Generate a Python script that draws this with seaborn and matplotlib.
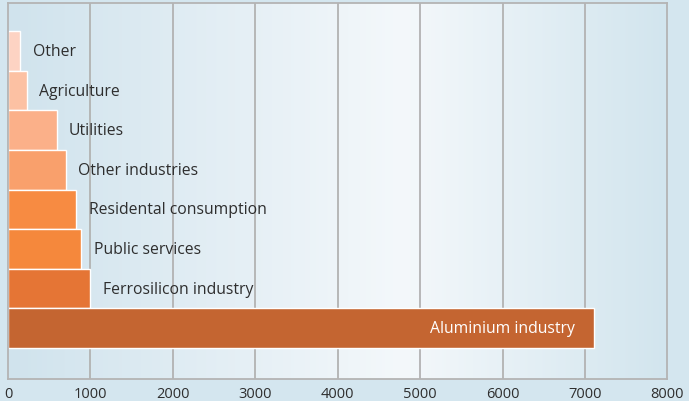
import numpy as np
import matplotlib.pyplot as plt
from matplotlib.colors import LinearSegmentedColormap
import seaborn as sns

categories = ["Other", "Agriculture", "Utilities", "Other industries",
              "Residental consumption", "Public services",
              "Ferrosilicon industry", "Aluminium industry"]
values = [150, 225, 590, 700, 830, 890, 1000, 7110]
bar_colors = ["#FDD3C3", "#FCC1A3", "#FBB089", "#F9A06C",
              "#F78B42", "#F5883C", "#E57535", "#C46531"]
x_ticks = [0, 1000, 2000, 3000, 4000, 5000, 6000, 7000, 8000]

sns.set_theme(style="white")
plt.rcParams["font.family"] = ["Open Sans", "DejaVu Sans"]

fig = plt.figure(figsize=(6.89, 4.02), dpi=100, facecolor="#D4E6EF")
ax = fig.add_axes([0.0116, 0.055, 0.957, 0.935])

# gradient background inside the plot area
bg = LinearSegmentedColormap.from_list(
    "bg", [(0, "#D0E3ED"), (0.6, "#F4F8FB"), (1, "#D2E5EE")])
ylim = (8.28, -1.21)
ax.imshow(np.linspace(0, 1, 256).reshape(1, -1), cmap=bg, aspect="auto",
          extent=[0, 8000, ylim[0], ylim[1]], zorder=0)

for t in x_ticks[1:-1]:
    ax.axvline(t, color="#B2B2B2", lw=1.3, zorder=1)

sns.barplot(x=values, y=categories, hue=categories, palette=bar_colors,
            orient="h", width=1.0, saturation=1, edgecolor="white",
            linewidth=1.0, legend=False, ax=ax, zorder=2)

ax.set_xlim(0, 8000)
ax.set_ylim(*ylim)
ax.set_xticks(x_ticks)
ax.set_xticklabels([str(t) for t in x_ticks], fontsize=10.5, color="#2E2E2E")
ax.set_yticks([])
ax.set_xlabel("")
ax.set_ylabel("")
ax.tick_params(axis="x", length=0, pad=5)
for s in ax.spines.values():
    s.set_color("#B4B4B4")
    s.set_linewidth(1.3)

for i, (cat, v) in enumerate(zip(categories, values)):
    if cat == "Aluminium industry":
        ax.text(v - 230, i, cat, ha="right", va="center", fontsize=11.3,
                color="white", zorder=3)
    else:
        ax.text(v + 150, i, cat, ha="left", va="center", fontsize=11.3,
                color="#2E2E2E", zorder=3)

plt.savefig("out.png", dpi=100, facecolor=fig.get_facecolor())
